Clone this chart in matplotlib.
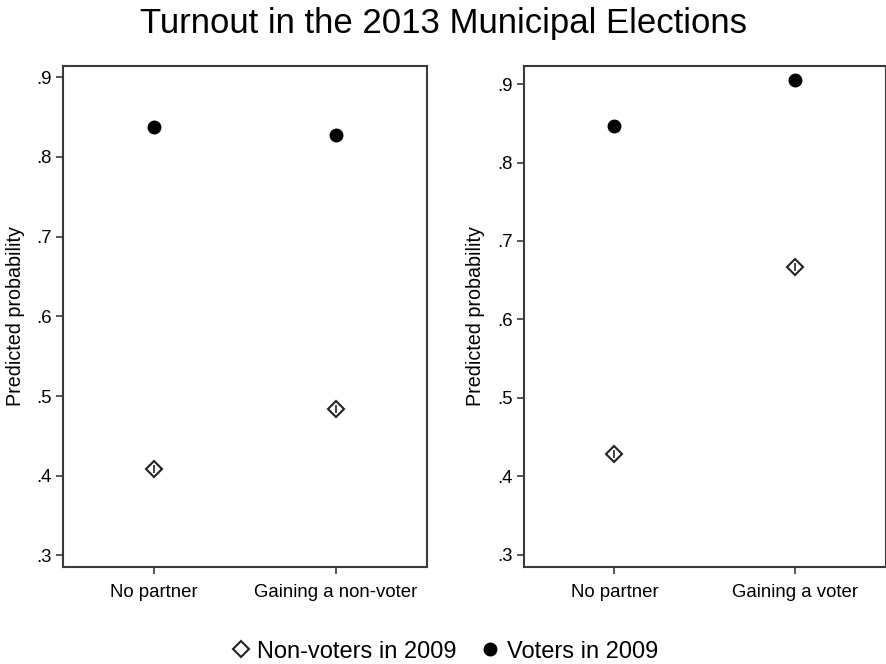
import numpy as np
import matplotlib
matplotlib.use("Agg")
from matplotlib import pyplot as plt
from matplotlib.ticker import FuncFormatter

plt.rcParams['font.family'] = ['Liberation Sans', 'DejaVu Sans']

# predicted turnout probabilities
left_cats = ["No partner", "Gaining a non-voter"]
left_nonvoters = [0.408, 0.484]
left_voters = [0.837, 0.827]

right_cats = ["No partner", "Gaining a voter"]
right_nonvoters = [0.428, 0.667]
right_voters = [0.846, 0.905]

yticks = [0.3, 0.4, 0.5, 0.6, 0.7, 0.8, 0.9]

spine_col = "#3a3a3a"


def noZero(v, pos):
    # stata style: .9 instead of 0.9
    return ("%.1f" % v).lstrip("0")


def drawPanel(ax, cats, nonvoters, voters, ylim, labx):
    x = np.arange(len(cats))
    ax.plot(x, nonvoters, linestyle="none", marker="D", markersize=8,
            markerfacecolor="white", markeredgecolor="#222222",
            markeredgewidth=1.5, label="Non-voters in 2009")
    ax.plot(x, nonvoters, linestyle="none", marker="|", markersize=6,
            color="#222222", markeredgewidth=1.2)
    ax.plot(x, voters, linestyle="none", marker="o", markersize=9,
            color="black", label="Voters in 2009")
    ax.set_xlim(-0.5, 1.5)
    ax.set_ylim(*ylim)
    ax.set_xticks(x)
    ax.set_xticklabels(cats, fontsize=13.4)
    ax.set_yticks(yticks)
    ax.yaxis.set_major_formatter(FuncFormatter(noZero))
    ax.tick_params(axis="y", labelsize=13.4, length=5, width=1.2,
                   color=spine_col, pad=3)
    ax.tick_params(axis="x", length=5, width=1.2, color=spine_col, pad=7)
    for s in ax.spines.values():
        s.set_color(spine_col)
        s.set_linewidth(1.5)
    ax.set_ylabel("Predicted probability", fontsize=14.2)
    ax.yaxis.set_label_coords(labx, 0.5)


fig = plt.figure(figsize=(8.87, 6.64), dpi=100)
ax1 = fig.add_axes([63 / 887, 97 / 664, 364 / 887, 501 / 664])
ax2 = fig.add_axes([524 / 887, 97 / 664, 362 / 887, 501 / 664])

drawPanel(ax1, left_cats, left_nonvoters, left_voters, (0.2855, 0.914), -0.104)
drawPanel(ax2, right_cats, right_nonvoters, right_voters, (0.2845, 0.923), -0.108)

fig.suptitle("Turnout in the 2013 Municipal Elections", fontsize=25, y=0.99)

handles, labels = ax1.get_legend_handles_labels()
fig.legend(handles, labels, loc="lower center", ncol=2, frameon=False,
           fontsize=17, bbox_to_anchor=(0.5, -0.03), handletextpad=0.2,
           columnspacing=0.9, handlelength=1.0)

fig.savefig("out.png", dpi=100)
